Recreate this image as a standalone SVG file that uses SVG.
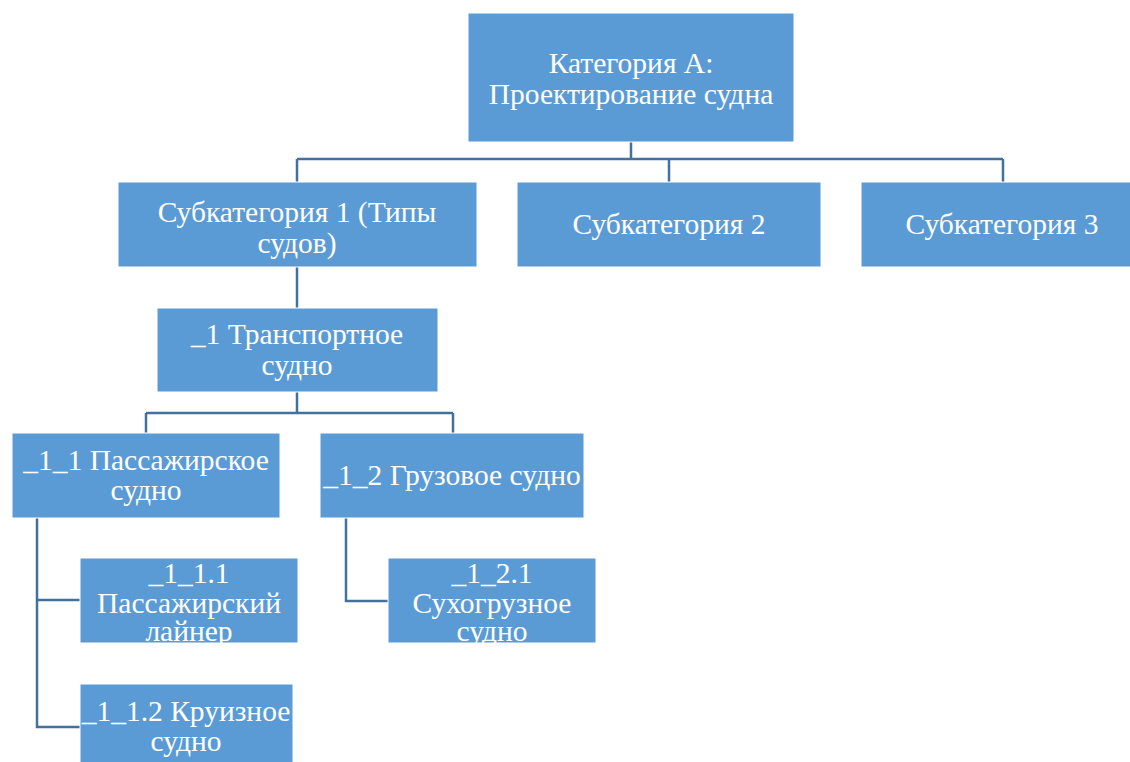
<svg xmlns="http://www.w3.org/2000/svg" width="1130" height="762" viewBox="0 0 1130 762">
<style>
.box{fill:#5B9BD5;stroke:#ffffff;stroke-width:1}
.t{font-family:"Liberation Serif","Times New Roman",serif;font-size:29.5px;fill:#ffffff;text-anchor:middle}
.c{fill:none;stroke:#41719C;stroke-width:2.5}
</style>
<rect width="1130" height="762" fill="#ffffff"/>
<g id="connectors">
<path class="c" d="M631 142V159M297 159H1003M297 159V182M669 159V182M1003 159V182"/>
<path class="c" d="M297 267V308"/>
<path class="c" d="M297 392V413M146 413H453M146 413V433M453 413V433"/>
<path class="c" d="M37 518V727H80M37 600H80"/>
<path class="c" d="M346 518V601H388"/>
</g>
<g id="n0"><rect class="box" x="468" y="13" width="326" height="129"/>
<text class="t" x="631" y="73">Категория А:</text><text class="t" x="631" y="104">Проектирование судна</text></g>
<g id="n1"><rect class="box" x="118" y="182" width="359" height="85"/>
<text class="t" x="297" y="222">Субкатегория 1 (Типы</text><text class="t" x="297" y="253">судов)</text></g>
<g id="n2"><rect class="box" x="517" y="182" width="304" height="85"/>
<text class="t" x="669" y="234">Субкатегория 2</text></g>
<g id="n3"><rect class="box" x="861" y="182" width="284" height="85"/>
<text class="t" x="1002" y="234">Субкатегория 3</text></g>
<g id="n4"><rect class="box" x="157" y="308" width="281" height="84"/>
<text class="t" x="297" y="344">_1 Транспортное</text><text class="t" x="297" y="375">судно</text></g>
<g id="n5"><rect class="box" x="12" y="433" width="268" height="85"/>
<text class="t" x="146" y="470">_1_1 Пассажирское</text><text class="t" x="146" y="500">судно</text></g>
<g id="n6"><rect class="box" x="320" y="433" width="264" height="85"/>
<text class="t" x="452" y="485">_1_2 Грузовое судно</text></g>
<g id="n7"><rect class="box" x="80" y="558" width="218" height="85"/>
<text class="t" x="189" y="583">_1_1.1</text><text class="t" x="189" y="613">Пассажирский</text><text class="t" x="189" y="641">лайнер</text></g>
<g id="n8"><rect class="box" x="80" y="684" width="213" height="82"/>
<text class="t" x="186" y="721">_1_1.2 Круизное</text><text class="t" x="186" y="751">судно</text></g>
<g id="n9"><rect class="box" x="388" y="558" width="208" height="85"/>
<text class="t" x="492" y="583">_1_2.1</text><text class="t" x="492" y="613">Сухогрузное</text><text class="t" x="492" y="641">судно</text></g>
</svg>
